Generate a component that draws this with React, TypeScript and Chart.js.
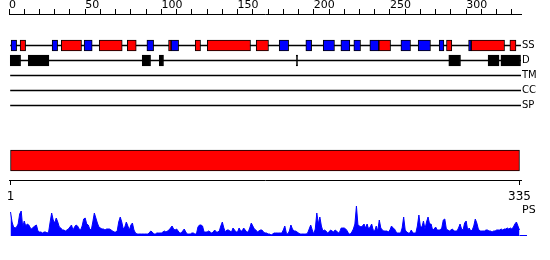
import React, { useEffect, useRef } from "react";
import Chart from "chart.js/auto";

// ---- data ----
const ROW_LABELS = ["SS", "D", "TM", "CC", "SP"];
const TOP_TICK_STEP = 10;
const TOP_LABEL_STEP = 50;
const AXIS_MAX = 336;

// secondary structure: helices (red) and strands (blue), residue ranges
const HELIX: number[][] = [
  [7.3, 10.9], [34.3, 47.6], [59.2, 74.3], [77.6, 83.5], [104.7, 106.4],
  [122.2, 125.7], [130.1, 158.5], [162.2, 170.3], [242.7, 250.4],
  [287.1, 290.6], [303.3, 325.2], [328.7, 332.7],
];
const STRAND: number[][] = [
  [1.4, 5.0], [28.3, 31.9], [49.3, 54.6], [90.5, 94.9], [106.4, 111.3],
  [177.3, 183.5], [194.8, 198.6], [206.2, 213.6], [217.8, 223.7],
  [226.3, 230.7], [236.8, 242.7], [257.2, 263.5], [268.5, 276.6],
  [282.3, 285.4], [301.6, 303.3],
];
// disorder (black)
const DISORDER: number[][] = [
  [0.8, 7.6], [12.6, 26.2], [87.4, 92.9], [98.6, 101.4], [188.5, 189.4],
  [288.6, 296.3], [314.4, 321.6], [322.8, 335.7],
];
const ROW_LINE = [1, 336];

// sequence range bar
const RANGE_BAR = [1, 335];
const RANGE_LABELS = [1, 335];

// PS profile, one value per residue (1..335)
const PS_VALUES = [
  24, 14, 9, 8, 9, 12, 22, 25, 9, 15,
  10, 12, 11, 8, 7, 9, 10, 11, 5, 4,
  4, 3, 4, 4, 3, 4, 14, 23, 16, 13,
  18, 14, 9, 8, 6, 6, 5, 6, 7, 9,
  11, 6, 9, 11, 10, 7, 6, 10, 17, 18,
  12, 11, 7, 6, 14, 23, 18, 13, 9, 8,
  7, 7, 6, 7, 7, 7, 6, 5,
  4, 4, 5, 14, 19, 14, 7, 9, 14, 10,
  6, 11, 13, 6, 3, 2, 2, 2, 2, 2,
  2, 2, 2, 3, 5, 4, 2, 2, 3, 3,
  3, 3, 4, 5, 4, 5, 6, 8, 10, 7,
  6, 7, 5, 3, 3, 5, 7, 4, 2, 2,
  2, 3, 3, 2, 2, 9, 11, 11, 10, 4,
  4, 4, 5, 4, 3, 4, 6, 4,
  4, 5, 10, 14, 8, 4, 6, 6, 5, 4,
  8, 6, 4, 4, 8, 5, 5, 8, 6, 4,
  4, 8, 13, 10, 7, 6, 4, 5, 6, 6,
  4, 3, 3, 2, 2, 1, 2, 3, 3, 3,
  3, 3, 3, 6, 10, 3, 2, 5, 11, 7,
  5, 5, 4, 3, 2, 2, 2, 2, 2, 3,
  7, 11, 6, 2, 7, 23, 12, 19, 10, 5,
  6, 5, 3, 4, 6, 5, 4, 6, 5, 3,
  4, 8, 8, 8, 7, 5, 2, 2, 4, 7,
  12, 30, 11, 10, 9, 10, 12, 8, 12, 7,
  9, 12, 6, 5, 10, 5, 16, 8, 6, 5,
  5, 5, 4, 6, 10, 8, 7, 4, 3, 3,
  3, 8, 19, 6, 4, 3, 3, 6, 3, 3,
  3, 10, 21, 9, 9, 15, 7, 14, 19,
  12, 12, 6, 7, 9, 6, 6, 6, 8, 16,
  17, 7, 6, 5, 6, 7, 5, 5, 5, 8,
  12, 7, 6, 13, 15, 6, 8, 5, 6, 10,
  17, 13, 7, 5, 5, 5, 5, 6, 6, 5,
  5, 4, 5, 5, 6, 6, 6, 7, 6, 7,
  7, 8, 7, 8, 7, 9, 12, 14, 10, 6,
];
const PS_TAIL = [335, 340];
const PS_MAX = 36;

const FONT = "DejaVu Sans";
const RED = "#ff0000";
const BLUE = "#0000ff";
const BLACK = "#000000";

function useChart(ref: React.RefObject<HTMLCanvasElement>, makeConfig: () => any) {
  useEffect(() => {
    if (!ref.current) return;
    const chart = new Chart(ref.current, makeConfig());
    return () => chart.destroy();
  }, []);
}

const boxStyle = (color: string, thickness: number) => ({
  backgroundColor: color,
  borderColor: BLACK,
  borderWidth: 1,
  borderSkipped: false,
  barThickness: thickness,
  grouped: false,
});

const zeroPad = (s: any) => {
  s.paddingTop = 0;
  s.paddingBottom = 0;
  s.paddingLeft = 0;
  s.paddingRight = 0;
};

export default function App() {
  const topRef = useRef<HTMLCanvasElement>(null);
  const rangeRef = useRef<HTMLCanvasElement>(null);
  const psRef = useRef<HTMLCanvasElement>(null);

  Chart.defaults.font.family = FONT;

  useChart(topRef, () => ({
    type: "bar",
    data: {
      datasets: [
        {
          label: "strand",
          data: STRAND.map(([a, b]) => ({ x: [a, b], y: ROW_LABELS.indexOf("SS") })),
          ...boxStyle(BLUE, 11),
          order: 1,
        },
        {
          label: "helix",
          data: HELIX.map(([a, b]) => ({ x: [a, b], y: ROW_LABELS.indexOf("SS") })),
          ...boxStyle(RED, 11),
          order: 2,
        },
        {
          label: "disorder",
          data: DISORDER.map(([a, b]) => ({ x: [a, b], y: ROW_LABELS.indexOf("D") })),
          ...boxStyle(BLACK, 11),
          order: 1,
        },
        {
          label: "rows",
          data: ROW_LABELS.map((_, i) => ({ x: ROW_LINE, y: i })),
          backgroundColor: BLACK,
          borderWidth: 0,
          barThickness: 1,
          grouped: false,
          order: 10,
        },
      ],
    },
    options: {
      indexAxis: "y",
      responsive: false,
      animation: false,
      layout: { padding: { left: 9, right: 0, top: 0, bottom: 0 } },
      plugins: { legend: { display: false }, tooltip: { enabled: false } },
      scales: {
        x: {
          type: "linear",
          position: "top",
          min: 0,
          max: AXIS_MAX,
          afterFit: (s: any) => {
            s.height = 14;
            zeroPad(s);
          },
          grid: { drawOnChartArea: false, tickLength: 5, tickColor: BLACK, color: BLACK },
          border: { color: BLACK, width: 1 },
          ticks: {
            stepSize: TOP_TICK_STEP,
            autoSkip: false,
            includeBounds: false,
            align: "start",
            maxRotation: 0,
            padding: -3,
            color: BLACK,
            font: { size: 11, family: FONT },
            callback: (v: number) => (v % TOP_LABEL_STEP === 0 ? String(v) : ""),
          },
        },
        y: {
          type: "linear",
          position: "right",
          reverse: true,
          offset: false,
          min: -2.1,
          max: -2.1 + (120 - 14) / 15,
          afterFit: (s: any) => {
            s.width = 29;
            zeroPad(s);
          },
          afterBuildTicks: (s: any) => {
            s.ticks = ROW_LABELS.map((_, i) => ({ value: i }));
          },
          grid: { display: false, drawTicks: false },
          border: { display: false },
          ticks: {
            padding: 1,
            color: BLACK,
            font: { size: 10, family: FONT },
            callback: (v: number) => ROW_LABELS[v] ?? "",
          },
        },
      },
    },
  }));

  useChart(rangeRef, () => ({
    type: "bar",
    data: {
      datasets: [
        {
          label: "range",
          data: [{ x: RANGE_BAR, y: 0 }],
          ...boxStyle(RED, 21),
        },
      ],
    },
    options: {
      indexAxis: "y",
      responsive: false,
      animation: false,
      layout: { padding: { left: 9, right: 29, top: 0, bottom: 0 } },
      plugins: { legend: { display: false }, tooltip: { enabled: false } },
      scales: {
        x: {
          type: "linear",
          position: "bottom",
          min: 0,
          max: AXIS_MAX,
          afterFit: (s: any) => {
            s.height = 25;
            zeroPad(s);
          },
          afterBuildTicks: (s: any) => {
            s.ticks = RANGE_LABELS.map((v) => ({ value: v }));
          },
          grid: { drawOnChartArea: false, tickLength: 5, tickColor: BLACK, color: BLACK },
          border: { color: BLACK, width: 1 },
          ticks: {
            autoSkip: false,
            maxRotation: 0,
            padding: 5,
            color: BLACK,
            font: { size: 12, family: FONT },
          },
        },
        y: { type: "linear", display: false, offset: false, reverse: true, min: -20.5, max: 19.5 },
      },
    },
  }));

  useChart(psRef, () => ({
    type: "line",
    data: {
      datasets: [
        {
          label: "PS",
          data: PS_VALUES.map((v, i) => ({ x: i + 1, y: v })),
          borderColor: BLUE,
          backgroundColor: BLUE,
          borderWidth: 1,
          pointRadius: 0,
          fill: "origin",
          tension: 0,
        },
        {
          label: "tail",
          data: PS_TAIL.map((x) => ({ x, y: 0.5 })),
          borderColor: BLUE,
          borderWidth: 1,
          pointRadius: 0,
          fill: false,
        },
      ],
    },
    options: {
      responsive: false,
      animation: false,
      layout: { padding: { left: 9, right: 550 - (9 + 340 * (512 / AXIS_MAX)), top: 0, bottom: 4 } },
      plugins: { legend: { display: false }, tooltip: { enabled: false } },
      scales: {
        x: { type: "linear", display: false, min: 0, max: 340 },
        y: { type: "linear", display: false, min: 0, max: PS_MAX },
      },
    },
  }));

  return (
    <div style={{ position: "absolute", left: 0, top: 0, width: 550, height: 260, background: "#fff" }}>
      <canvas
        ref={topRef}
        width={550}
        height={120}
        style={{ position: "absolute", left: 0, top: 0, width: 550, height: 120 }}
      />
      <canvas
        ref={rangeRef}
        width={550}
        height={65}
        style={{ position: "absolute", left: 0, top: 140, width: 550, height: 65 }}
      />
      <canvas
        ref={psRef}
        width={550}
        height={40}
        style={{ position: "absolute", left: 0, top: 200, width: 550, height: 40 }}
      />
      <div
        style={{
          position: "absolute",
          left: 522,
          top: 203,
          fontFamily: FONT,
          fontSize: 11,
          lineHeight: "13px",
          color: BLACK,
        }}
      >
        PS
      </div>
    </div>
  );
}
